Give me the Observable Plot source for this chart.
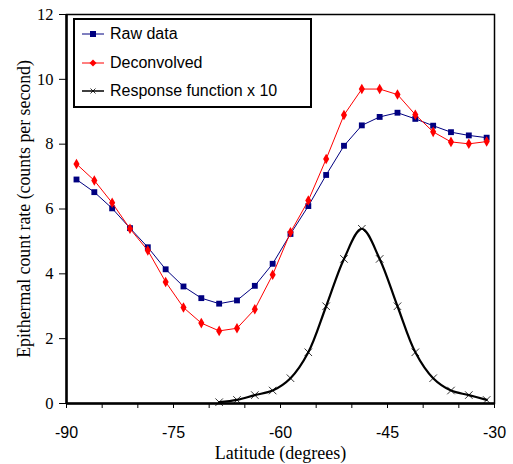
<!DOCTYPE html>
<html><head><meta charset="utf-8">
<script src="https://cdn.jsdelivr.net/npm/d3@7"></script>
<script src="https://cdn.jsdelivr.net/npm/@observablehq/plot@0.6"></script>
<style>
body{margin:0;background:#fff;}
#wrap{position:relative;width:513px;height:464px;}
#legend{position:absolute;left:73px;top:18px;width:235px;height:86px;border:2px solid #000;background:#fff;font:16px "Liberation Sans",Arial,sans-serif;color:#000;}
.item{position:absolute;left:7px;display:flex;align-items:center;height:20px;}
.item svg{margin-right:6px;}
</style></head><body><div id="wrap"></div>
<script>
const latitude = [-88.6,-86.1,-83.6,-81.1,-78.6,-76.1,-73.6,-71.1,-68.6,-66.1,-63.6,-61.1,-58.6,-56.1,-53.6,-51.1,-48.6,-46.1,-43.6,-41.1,-38.6,-36.1,-33.6,-31.1];
const rawData = [6.91,6.52,6.02,5.41,4.82,4.14,3.61,3.25,3.08,3.18,3.63,4.31,5.23,6.09,7.05,7.95,8.58,8.84,8.97,8.78,8.57,8.37,8.27,8.20];
const deconvolved = [7.39,6.88,6.19,5.39,4.72,3.75,2.96,2.48,2.24,2.32,2.91,3.97,5.28,6.26,7.54,8.90,9.70,9.70,9.53,8.91,8.38,8.07,8.01,8.08];
const responseLatitude = [-68.6,-66.1,-63.6,-61.1,-58.6,-56.1,-53.6,-51.1,-48.6,-46.1,-43.6,-41.1,-38.6,-36.1,-33.6,-31.1];
const responseX10 = [0.04,0.11,0.26,0.40,0.78,1.58,3.00,4.46,5.39,4.46,3.00,1.58,0.78,0.40,0.26,0.11];
const xMinorTicks = [-90,-85,-80,-75,-70,-65,-60,-55,-50,-45,-40,-35,-30];
const xLabelTicks = [-90,-75,-60,-45,-30];
const yTicks = [0,2,4,6,8,10,12];
const seriesNames = ["Raw data","Deconvolved","Response function x 10"];
const xTitle = "Latitude (degrees)";
const yTitle = "Epithermal count rate (counts per second)";

const raw = latitude.map((x,i)=>({x, y: rawData[i]}));
const dec = latitude.map((x,i)=>({x, y: deconvolved[i]}));
const resp = responseLatitude.map((x,i)=>({x, y: responseX10[i]}));

const serif = '"Liberation Serif","Times New Roman",serif';
const sans = '"Liberation Sans",Arial,sans-serif';

const chart = Plot.plot({
  width: 513, height: 464,
  marginLeft: 66, marginRight: 19, marginTop: 14, marginBottom: 61,
  x: {domain: [-90,-30], axis: null},
  y: {domain: [0,12], axis: null},
  style: {background: "#fff", color: "#000", fontFamily: serif},
  marks: [
    Plot.frame({stroke: "#000", strokeWidth: 1.5}),
    Plot.line(raw, {x: "x", y: "y", stroke: "#000080", strokeWidth: 1}),
    Plot.dot(raw, {x: "x", y: "y", symbol: "square", fill: "#000080", r: 3.3}),
    Plot.line(dec, {x: "x", y: "y", stroke: "#ff0000", strokeWidth: 1}),
    Plot.dot(dec, {x: "x", y: "y", symbol: "diamond", fill: "#ff0000", r: 3.2}),
    Plot.line(resp, {x: "x", y: "y", stroke: "#000", strokeWidth: 2.2, curve: "catmull-rom"}),
    Plot.dot(resp, {x: "x", y: "y", symbol: "times", stroke: "#000", strokeWidth: 0.8, r: 3.5}),
    Plot.ruleY([0], {stroke: "#000", strokeWidth: 2.5}),
    Plot.ruleX([-90], {stroke: "#000", strokeWidth: 2.5}),
    Plot.axisX({ticks: xMinorTicks, tickSize: 5, tickFormat: () => "", label: null}),
    Plot.axisX({ticks: xLabelTicks, tickSize: 0, tickPadding: 23, fontSize: 16, fontFamily: sans, label: null, tickFormat: d => String(d)}),
    Plot.axisY({ticks: yTicks, tickSize: 7, tickFormat: () => "", label: null}),
    Plot.text(yTicks, {y: d => d, text: d => String(d), frameAnchor: "left", dx: -13, textAnchor: "end", lineAnchor: "middle", fontSize: 16.5, fontFamily: serif}),
    Plot.text([xTitle], {text: d => d, frameAnchor: "bottom", dy: 50, fontSize: 18, fontFamily: serif, lineAnchor: "middle", textAnchor: "middle"}),
    Plot.text([yTitle], {text: d => d, frameAnchor: "left", rotate: -90, dx: -42, fontSize: 17.8, fontFamily: serif, lineAnchor: "middle", textAnchor: "middle"})
  ]
});
const wrap = document.getElementById("wrap");
wrap.appendChild(chart);

// legend
const legend = document.createElement("div");
legend.id = "legend";
const tops = [4, 33, 61];
const styles = [
  {color: "#000080", mark: (c)=>`<rect x="8" y="7" width="6" height="6" fill="${c}"/>`},
  {color: "#ff0000", mark: (c)=>`<path d="M11 6.5 L14.5 10 L11 13.5 L7.5 10 Z" fill="${c}"/>`},
  {color: "#000", mark: (c)=>`<path d="M8.5 7.5 L13.5 12.5 M13.5 7.5 L8.5 12.5" stroke="${c}" stroke-width="0.8"/>`}
];
seriesNames.forEach((name, i) => {
  const it = document.createElement("div");
  it.className = "item";
  it.style.top = tops[i] + "px";
  const s = styles[i];
  it.innerHTML = `<svg width="22" height="20"><line x1="0" x2="22" y1="10" y2="10" stroke="${s.color}" stroke-width="${i===2?1.5:1}"/>${s.mark(s.color)}</svg><span>${name}</span>`;
  legend.appendChild(it);
});
wrap.appendChild(legend);
</script>
</body></html>
